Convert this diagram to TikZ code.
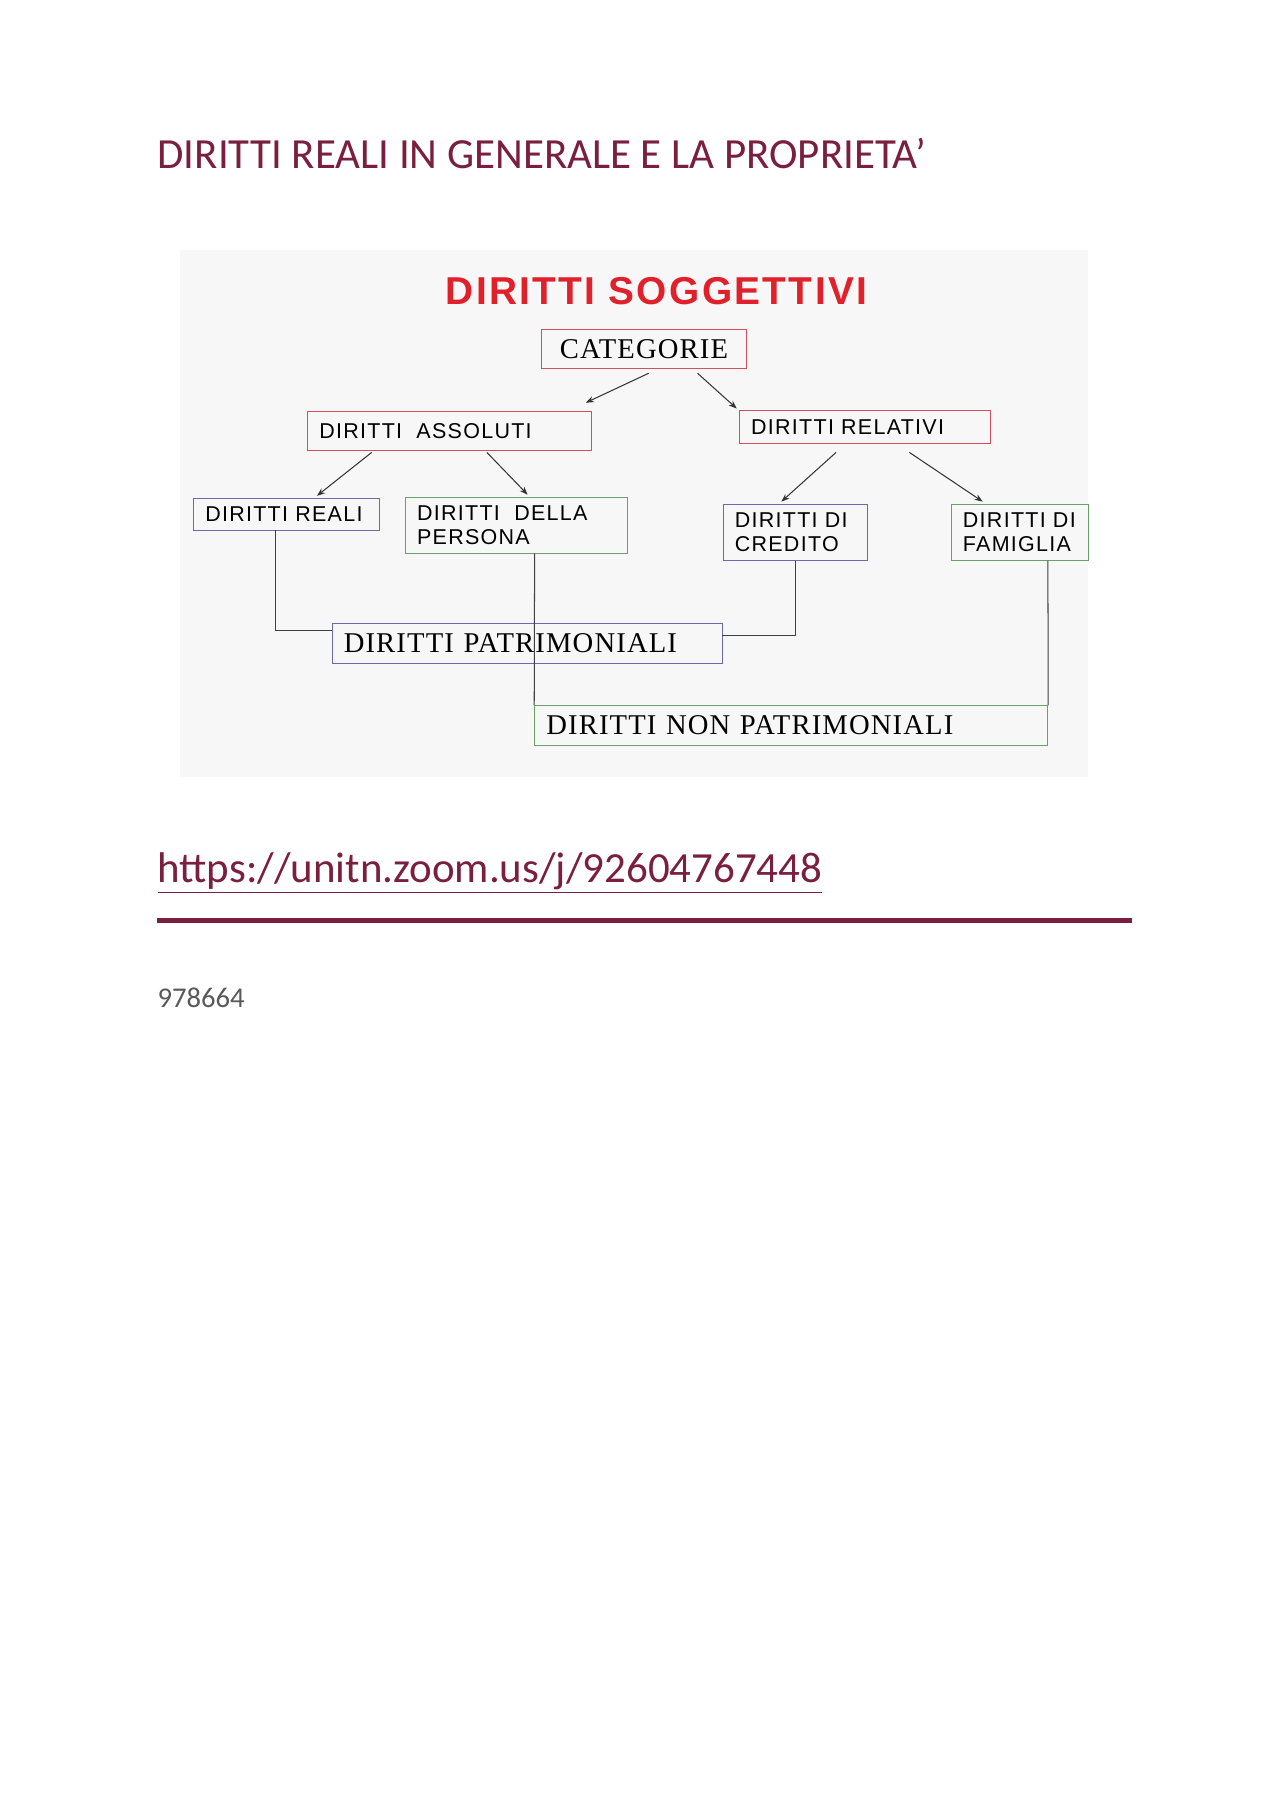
\documentclass[tikz,border=0pt]{standalone}
\usepackage{fontspec}
\setmainfont{Carlito}
\newfontfamily\arialf[LetterSpace=6]{Liberation Sans}
\newfontfamily\arialt[LetterSpace=6]{Liberation Sans}
\newfontfamily\timesf[LetterSpace=4]{Liberation Serif}
\usetikzlibrary{arrows.meta,calc}
\definecolor{maroon}{HTML}{7A1F3D}
\definecolor{bred}{HTML}{D05060}
\definecolor{bblue}{HTML}{6A6AB0}
\definecolor{bgreen}{HTML}{6AA06A}
\definecolor{rtitle}{HTML}{E0202A}
\tikzset{
 bx/.style={draw, anchor=north west, inner xsep=0.2cm, inner ysep=0pt, align=left, font=\arialf\fontsize{10.5}{12}\selectfont},
 sbx/.style={bx, font=\timesf\fontsize{14}{16}\selectfont},
 arr/.style={-{Stealth[length=4pt,width=3pt]}, black!80, line width=0.5pt},
 ln/.style={black!75, line width=0.5pt}
}
\begin{document}
\begin{tikzpicture}[x=0.02cm,y=-0.02cm]
\useasboundingbox[fill=white] (0,0) rectangle (1100,1556);
\fill[black!3] (155,215) rectangle (935,668);
\node[anchor=base west, inner sep=0, text=maroon, font=\fontsize{21}{25}\selectfont] (title) at (135,145) {DIRITTI REALI IN GENERALE E LA PROPRIETA’};
\node[inner sep=0, text=rtitle, font=\arialt\bfseries\fontsize{19}{21}\selectfont] (ds) at (564,250) {DIRITTI SOGGETTIVI};
\node[sbx, draw=bred, minimum width=3.52cm, minimum height=0.66cm, text width=3.12cm, align=center] (cat) at (465,283) {CATEGORIE};
\node[bx, draw=bred, minimum width=4.88cm, minimum height=0.68cm, text width=4.48cm] (ass) at (264,353) {\mbox{DIRITTI\ \ ASSOLUTI}};
\node[bx, draw=bred, minimum width=4.32cm, minimum height=0.58cm, text width=3.92cm] (rel) at (635,352) {\mbox{DIRITTI RELATIVI}};
\node[bx, draw=bblue, minimum width=3.2cm, minimum height=0.54cm, text width=2.8cm] (reali) at (166,428) {\mbox{DIRITTI REALI}};
\node[bx, draw=bgreen, minimum width=3.82cm, minimum height=0.96cm, text width=3.42cm] (pers) at (348,427) {\mbox{DIRITTI\ \ DELLA}\\\mbox{PERSONA}};
\node[bx, draw=bblue, minimum width=2.48cm, minimum height=0.96cm, text width=2.08cm] (cred) at (621,433) {\mbox{DIRITTI DI}\\\mbox{CREDITO}};
\node[bx, draw=bgreen, minimum width=2.36cm, minimum height=0.96cm, text width=1.96cm] (fam) at (817,433) {\mbox{DIRITTI DI}\\\mbox{FAMIGLIA}};
\node[sbx, draw=bblue, minimum width=6.7cm, minimum height=0.7cm, text width=6.3cm] (patr) at (285,535) {\mbox{DIRITTI PATRIMONIALI}};
\node[sbx, draw=bgreen, minimum width=8.82cm, minimum height=0.68cm, text width=8.42cm] (nonp) at (459,606) {\mbox{DIRITTI NON PATRIMONIALI}};
\draw[arr] ([xshift=0.08cm,yshift=-0.08cm]cat.south) -- ([xshift=2.34cm,yshift=0.14cm]ass.north);
\draw[arr] ([xshift=0.92cm,yshift=-0.08cm]cat.south) -- ([xshift=-0.04cm,yshift=0.02cm]rel.north west);
\draw[arr] ([xshift=-1.34cm,yshift=-0.02cm]ass.south) -- ([xshift=0.52cm,yshift=0.04cm]reali.north);
\draw[arr] ([xshift=0.64cm,yshift=-0.02cm]ass.south) -- ([xshift=0.19cm,yshift=0.04cm]pers.north);
\draw[arr] ([xshift=-0.5cm,yshift=-0.14cm]rel.south) -- ([xshift=-0.24cm,yshift=0.04cm]cred.north);
\draw[arr] ([xshift=0.76cm,yshift=-0.14cm]rel.south) -- ([xshift=-0.64cm,yshift=0.04cm]fam.north);
\draw[ln] ([xshift=-0.2cm]reali.south) |- ([yshift=0.23cm]patr.west);
\draw[ln] (cred.south) |- ([yshift=0.13cm]patr.east);
\draw[ln] ([xshift=0.31cm]pers.south) -- (nonp.north west);
\draw[ln] ([xshift=0.48cm]fam.south) -- (nonp.north east);
\node[anchor=base west, inner sep=0, text=maroon, font=\fontsize{21}{25}\selectfont] (url) at (135,758) {\underline{https://unitn.zoom.us/j/92604767448}};
\coordinate (r1) at (135,791);
\coordinate (r2) at (973,791);
\draw[maroon, line width=2.5pt] (r1) -- (r2);
\node[anchor=base west, inner sep=0, text=black!65, font=\fontsize{14}{16}\selectfont] (num) at (135,866) {978664};
\end{tikzpicture}
\end{document}
